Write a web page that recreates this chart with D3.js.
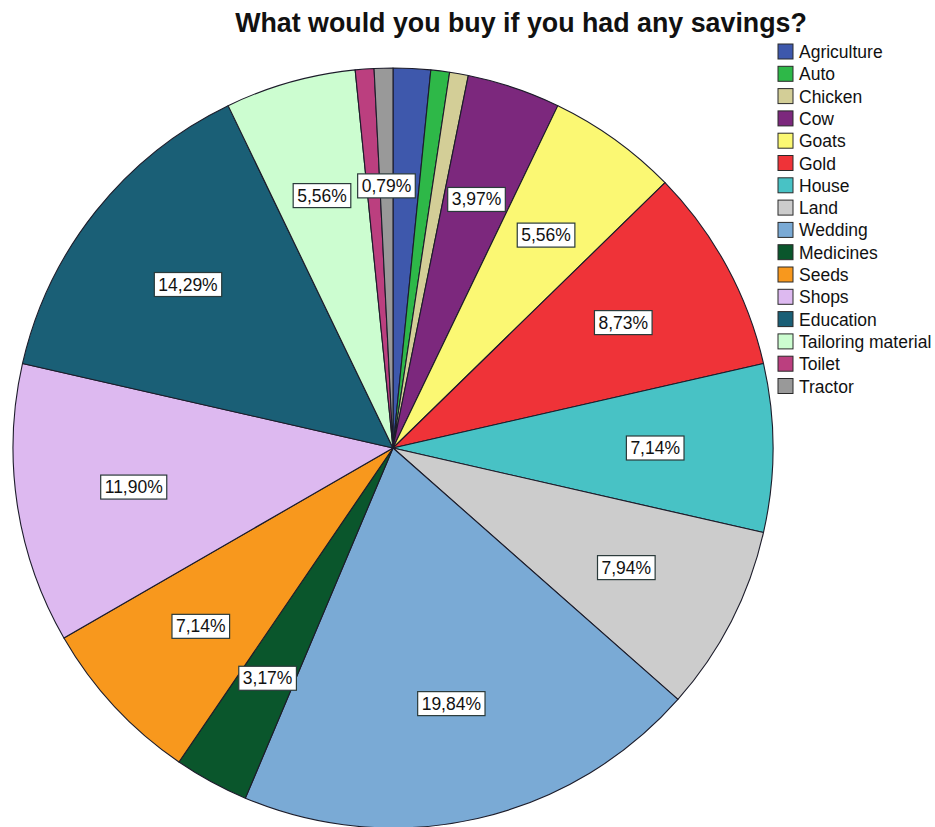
<!DOCTYPE html>
<html>
<head>
<meta charset="utf-8">
<script src="https://cdn.jsdelivr.net/npm/d3@7/dist/d3.min.js"></script>
<style>
  html, body { margin: 0; padding: 0; background: #fff; }
  svg { display: block; font-family: Arial, "Liberation Sans", sans-serif; }
</style>
</head>
<body>
<svg id="chart" width="935" height="827"></svg>
<script>
// Survey answers (counts of respondents)
const categories = ["Agriculture", "Auto", "Chicken", "Cow", "Goats", "Gold", "House", "Land",
  "Wedding", "Medicines", "Seeds", "Shops", "Education", "Tailoring material", "Toilet", "Tractor"];
const counts = [2, 1, 1, 5, 7, 11, 9, 10, 25, 4, 9, 15, 18, 7, 1, 1];
const colors = ["#3e58ac", "#2eb848", "#d3ce97", "#7c287d", "#fbf873", "#ef3338", "#48c2c5", "#cccccc",
  "#7aaad5", "#0a562c", "#f8981d", "#ddb9f0", "#1a5f76", "#ccfdd0", "#bb3f7f", "#999999"];
const title = "What would you buy if you had any savings?";

const svg = d3.select("#chart");
const cx = 393, cy = 448, R = 380;
const total = d3.sum(counts);
const data = categories.map((c, i) => ({ name: c, value: counts[i], color: colors[i] }));

const color = d3.scaleOrdinal().domain(categories).range(colors);
const pie = d3.pie().value(d => d.value).sort(null);
const arcs = pie(data);
const arc = d3.arc().innerRadius(0).outerRadius(R);
const labelArc = d3.arc().innerRadius(R * 0.69).outerRadius(R * 0.69);

const g = svg.append("g").attr("transform", `translate(${cx},${cy})`);

g.selectAll("path.slice")
  .data(arcs)
  .join("path")
  .attr("class", "slice")
  .attr("d", arc)
  .attr("fill", d => color(d.data.name))
  .attr("stroke", "#1c1c2a")
  .attr("stroke-width", 1.1)
  .attr("stroke-linejoin", "round");

// Percentage labels; when boxes collide, the later slice keeps its label
const fmt = v => (v / total * 100).toFixed(2).replace(".", ",") + "%";
const labelFont = 17.5;
const labelG = g.append("g");
const placed = [];
for (let i = arcs.length - 1; i >= 0; i--) {
  const a = arcs[i];
  const [x, y] = labelArc.centroid(a);
  const t = labelG.append("text")
    .attr("x", x).attr("y", y)
    .attr("text-anchor", "middle")
    .attr("dominant-baseline", "central")
    .attr("font-size", labelFont)
    .attr("fill", "#111")
    .text(fmt(a.data.value));
  const bb = t.node().getBBox();
  const box = { x0: x - bb.width / 2 - 4, x1: x + bb.width / 2 + 4, y0: y - 12, y1: y + 12 };
  const hit = placed.some(p => !(box.x1 < p.x0 || box.x0 > p.x1 || box.y1 < p.y0 || box.y0 > p.y1));
  if (hit) { t.remove(); continue; }
  placed.push(box);
  labelG.insert("rect", () => t.node())
    .attr("x", box.x0).attr("y", box.y0)
    .attr("width", box.x1 - box.x0).attr("height", box.y1 - box.y0)
    .attr("fill", "#fff")
    .attr("stroke", "#2a3a3a")
    .attr("stroke-width", 1.2);
}

// Title
svg.append("text")
  .attr("x", 521).attr("y", 32)
  .attr("text-anchor", "middle")
  .attr("font-size", 26.8)
  .attr("font-weight", "bold")
  .attr("fill", "#111")
  .text(title);

// Legend
const legend = svg.append("g").attr("transform", "translate(778,44)");
const item = legend.selectAll("g.item")
  .data(categories)
  .join("g")
  .attr("class", "item")
  .attr("transform", (d, i) => `translate(0,${i * 22.3})`);
item.append("rect")
  .attr("width", 15).attr("height", 15)
  .attr("fill", d => color(d))
  .attr("stroke", "#2a2a2a")
  .attr("stroke-width", 1);
item.append("text")
  .attr("x", 21).attr("y", 8)
  .attr("dominant-baseline", "central")
  .attr("font-size", 17.5)
  .attr("fill", "#111")
  .text(d => d);
</script>
</body>
</html>
